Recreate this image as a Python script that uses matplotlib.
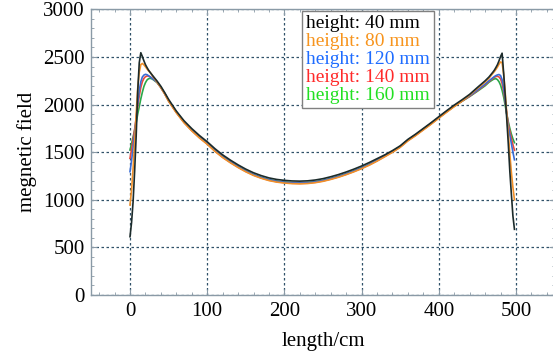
import matplotlib
matplotlib.use("Agg")
import matplotlib.pyplot as plt
from matplotlib.ticker import MultipleLocator

# sample positions along the length (cm)
length = [0, 2, 4, 6, 8, 10, 12, 14, 16, 18, 20, 22, 24, 26, 28, 30, 35, 40, 45, 50,
          60, 70, 80, 90, 100, 110, 120, 130, 140, 150, 160, 170, 180, 190, 200,
          210, 220, 230, 240, 250, 260, 270, 280, 290, 300, 310, 320, 330, 340,
          350, 360, 370, 380, 390, 400, 410, 420, 430,
          440, 450, 460, 465, 470, 472, 474, 476, 478, 480, 482, 484, 486, 488,
          490, 492, 494, 496, 498]

h40 = [612, 760, 980, 1300, 1670, 2140, 2440, 2545, 2505, 2460, 2420, 2390, 2362, 2340, 2318, 2298, 2248, 2192, 2125, 2055,
       1932, 1830, 1748, 1675, 1610, 1537, 1472, 1417, 1367, 1322, 1284, 1254, 1230, 1214, 1204,
       1198, 1196, 1199, 1208, 1222, 1242, 1265, 1292, 1322, 1355, 1392, 1432, 1472, 1517,
       1567, 1635, 1690, 1750, 1810, 1873, 1935, 1995, 2050,
       2108, 2180, 2250, 2290, 2340, 2362, 2390, 2420, 2460, 2505, 2540, 2330, 2100, 1850,
       1590, 1300, 1060, 830, 690]

h80 = [945, 1100, 1330, 1600, 1900, 2170, 2340, 2420, 2432, 2418, 2398, 2375, 2355, 2338, 2318, 2292, 2238, 2180, 2112, 2036,
       1914, 1809, 1724, 1649, 1584, 1509, 1444, 1389, 1339, 1294, 1256, 1226, 1202, 1186, 1176,
       1170, 1168, 1171, 1180, 1194, 1214, 1237, 1264, 1294, 1327, 1364, 1406, 1452, 1499,
       1551, 1619, 1674, 1734, 1794, 1857, 1919, 1979, 2036,
       2100, 2170, 2238, 2278, 2328, 2348, 2370, 2395, 2425, 2448, 2440, 2320, 2130, 1910,
       1700, 1480, 1290, 1130, 1000]

h120 = [1295, 1410, 1550, 1690, 1860, 2020, 2150, 2240, 2290, 2310, 2318, 2314, 2304, 2292, 2280, 2268, 2237, 2182, 2117, 2042,
        1922, 1817, 1732, 1657, 1592, 1517, 1452, 1397, 1347, 1302, 1264, 1234, 1210, 1194, 1184,
        1178, 1176, 1179, 1188, 1202, 1222, 1245, 1272, 1302, 1335, 1372, 1414, 1460, 1507,
        1559, 1627, 1682, 1742, 1802, 1865, 1927, 1987, 2040,
        2092, 2152, 2215, 2250, 2282, 2295, 2305, 2312, 2316, 2305, 2262, 2180, 2050, 1900,
        1770, 1680, 1590, 1500, 1420]

h140 = [1436, 1530, 1630, 1740, 1860, 1980, 2090, 2180, 2240, 2275, 2293, 2300, 2300, 2292, 2282, 2270, 2235, 2178, 2113, 2038,
        1918, 1813, 1728, 1653, 1588, 1513, 1448, 1393, 1343, 1298, 1260, 1230, 1206, 1190, 1180,
        1174, 1172, 1175, 1184, 1198, 1218, 1241, 1268, 1298, 1331, 1368, 1410, 1456, 1503,
        1555, 1623, 1678, 1738, 1798, 1861, 1923, 1983, 2036,
        2088, 2146, 2208, 2244, 2275, 2286, 2295, 2298, 2290, 2270, 2222, 2140, 2030, 1910,
        1800, 1720, 1650, 1580, 1520]

h160 = [1523, 1590, 1660, 1730, 1810, 1900, 1980, 2060, 2130, 2190, 2230, 2258, 2272, 2276, 2272, 2262, 2232, 2180, 2116, 2042,
        1924, 1819, 1734, 1659, 1594, 1519, 1454, 1399, 1349, 1304, 1266, 1236, 1212, 1196, 1186,
        1180, 1178, 1181, 1190, 1204, 1224, 1247, 1274, 1304, 1337, 1374, 1416, 1462, 1508,
        1560, 1627, 1682, 1742, 1802, 1864, 1925, 1984, 2035,
        2085, 2140, 2198, 2235, 2262, 2270, 2272, 2262, 2240, 2205, 2150, 2080, 1990, 1900,
        1820, 1750, 1690, 1640, 1600]

labels = ["height: 40 mm", "height: 80 mm", "height: 120 mm", "height: 140 mm", "height: 160 mm"]
series = [h40, h80, h120, h140, h160]
line_colors = ["#1c2b2b", "#f0902a", "#3a6cd6", "#e84a3c", "#2aa84a"]
text_colors = ["#000000", "#f7941d", "#1e6cff", "#ff2a2a", "#22e022"]

plt.rcParams["font.family"] = ["Liberation Serif", "DejaVu Serif"]

fig = plt.figure(figsize=(5.53, 3.54), dpi=100)
ax = fig.add_axes([91.4 / 553, 59 / 354, 463.2 / 553, 285.6 / 354])

# draw the tall heights first so the black one stays on top
handles = [None] * 5
for i in [4, 3, 2, 1, 0]:
    handles[i], = ax.plot(length, series[i], color=line_colors[i], lw=1.2)

ax.set_xlim(-50, 550)
ax.set_ylim(0, 3000)
ax.xaxis.set_major_locator(MultipleLocator(100))
ax.xaxis.set_minor_locator(MultipleLocator(20))
ax.yaxis.set_major_locator(MultipleLocator(500))
ax.yaxis.set_minor_locator(MultipleLocator(100))

ax.grid(True, which="major", color="#2f5068", linestyle=(0, (2, 2)), lw=0.9)
frame_col = "#8a9aa6"
for s in ax.spines.values():
    s.set_color(frame_col)
    s.set_linewidth(1.0)
ax.tick_params(which="both", direction="in", top=True, right=True, color=frame_col,
               labelsize=15, labelcolor="black")
ax.tick_params(which="major", length=4, pad=5)
ax.tick_params(which="minor", length=2.5)

ax.set_xlabel("length/cm", fontsize=15, labelpad=8)
ax.set_ylabel("megnetic field", fontsize=15, labelpad=4)

leg = ax.legend(handles, labels, loc="upper left", bbox_to_anchor=(0.455, 0.995),
                handlelength=0, handletextpad=0, fontsize=14, fancybox=False,
                framealpha=1, edgecolor="#808080", borderpad=0.2, labelspacing=0.02,
                borderaxespad=0)
for h in leg.legend_handles:
    h.set_visible(False)
for t, c in zip(leg.get_texts(), text_colors):
    t.set_color(c)

fig.savefig("out.png", dpi=100)
